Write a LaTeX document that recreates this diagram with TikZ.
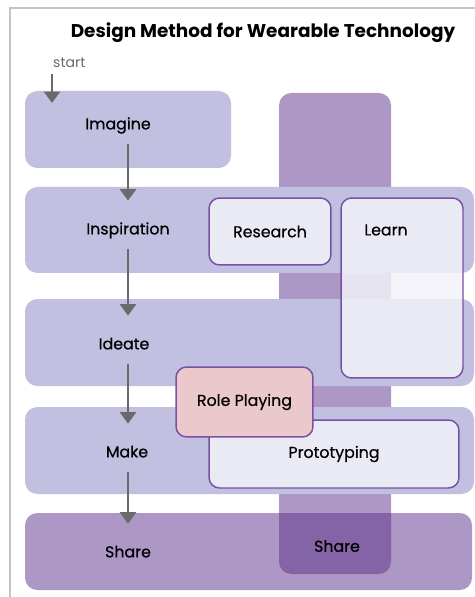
\documentclass[tikz,border=0pt]{standalone}
\usepackage{fontspec}
\setmainfont{Poppins}
\newfontfamily\medfont{Poppins}[FakeBold=0.5]
\usepackage{tikz}
\usetikzlibrary{positioning, arrows.meta}
\definecolor{bandblue}{HTML}{C1C0E1}
\definecolor{colpurple}{HTML}{AD97C5}
\definecolor{darkpurple}{HTML}{8463A6}
\definecolor{boxfill}{HTML}{F2F2F9}
\definecolor{boxline}{HTML}{7A50A5}
\definecolor{rolepink}{HTML}{EBC8CC}
\definecolor{arrowgray}{HTML}{6A6A6A}
\definecolor{framegray}{HTML}{C4C4C4}

\begin{document}
\begin{tikzpicture}[x=0.02cm, y=-0.02cm,
    band/.style={fill=bandblue, rounded corners=7pt},
    inbox/.style={draw=boxline, line width=0.85pt, fill=boxfill, fill opacity=0.85, text opacity=1, rounded corners=6pt, font=\medfont\fontsize{9}{10}\selectfont},
    stage/.style={font=\medfont\fontsize{9}{10}\selectfont, text height=7pt, text depth=2pt, inner xsep=2pt, inner ysep=6pt},
    flow/.style={draw=arrowgray, line width=1.7pt, -{Triangle[length=6.5pt, width=9pt]}, shorten >=6pt}]
    \useasboundingbox (0,0) rectangle (475,597);

    % frame
    \draw[framegray, line width=0.8pt] (10,597) -- (10,8) -- (475,8);

    % title
    \node[font=\bfseries\fontsize{10.5}{12}\selectfont] (title) at (263,33) {Design Method for Wearable Technology};

    % column and bands
    \fill[colpurple, rounded corners=7pt] (279,93) rectangle (391,580);
    \fill[band] (25,91) rectangle (231,168);
    \fill[band] (25,187) rectangle (474,273);
    \fill[band] (25,299) rectangle (474,386);
    \fill[band] (25,407) rectangle (474,494);
    \fill[colpurple, rounded corners=7pt] (25,513) rectangle (472,590);
    \fill[darkpurple, rounded corners=7pt] (279,513) [sharp corners] -- (391,513) [rounded corners=7pt] -- (391,574) -- (279,574) [sharp corners] -- cycle;

    % inner boxes
    \node[inbox, minimum width=2.44cm, minimum height=1.34cm] (research) at (270,231.5) {Research};
    \node[inbox, minimum width=2.44cm, minimum height=3.6cm] (learn) at (402,288) {};
    \node[font=\medfont\fontsize{9}{10}\selectfont] (learntxt) at (386,230) {Learn};
    \node[inbox, minimum width=5cm, minimum height=1.36cm] (proto) at (334,454) {Prototyping};
    \node[inbox, fill=rolepink, fill opacity=1, minimum width=2.74cm, minimum height=1.4cm] (role) at (244.5,402) {Role Playing};
    \node[font=\medfont\fontsize{9}{10}\selectfont] (sharetxt) at (337,546) {Share};

    % stages
    \node[text=arrowgray, font=\fontsize{8}{9}\selectfont, anchor=west] (start) at (47,63) {start};
    \coordinate (startend) at (52,103);
    \node[stage] (imagine) at (118,125) {Imagine};
    \node[stage] (inspiration) at (128,230) {Inspiration};
    \node[stage] (ideate) at (124,345) {Ideate};
    \node[stage] (make) at (127,453) {Make};
    \node[stage] (share) at (128,553) {Share};

    \draw[flow, shorten >=0pt] (start.south -| startend) -- (startend);
    \draw[flow] (imagine.south -| inspiration) -- (inspiration);
    \draw[flow] (inspiration) -- (inspiration |- ideate.north);
    \draw[flow] (inspiration |- ideate.south) -- (inspiration |- make.north);
    \draw[flow] (inspiration |- make.south) -- (inspiration |- share.north);
\end{tikzpicture}
\end{document}
